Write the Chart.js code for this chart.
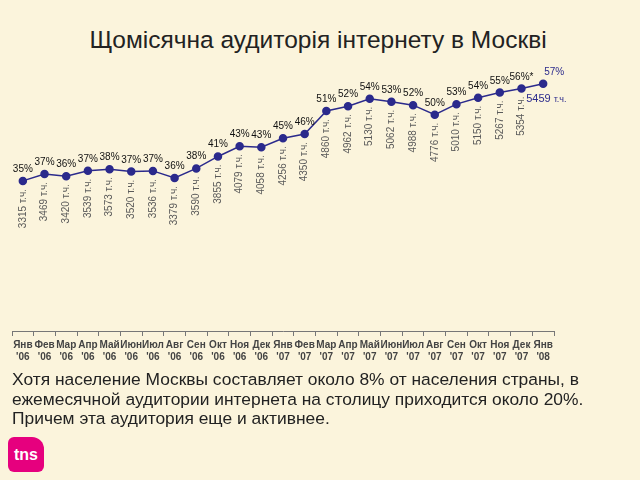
<!DOCTYPE html>
<html lang="ru">
<head>
  <meta charset="UTF-8">
  <title>Щомісячна аудиторія інтернету в Москві</title>
  <script src="https://cdn.jsdelivr.net/npm/chart.js"></script>
  <style>
    body {
      margin: 0;
      width: 640px;
      height: 480px;
      background: #fbf4dc;
      font-family: "Liberation Sans", Arial, sans-serif;
      position: relative;
      overflow: hidden;
    }
    #title {
      position: absolute;
      top: 26px;
      left: 0;
      width: 636px;
      text-align: center;
      font-size: 24.5px;
      color: #222;
    }
    #wrap {
      position: absolute;
      left: 0;
      top: 0;
      width: 640px;
      height: 480px;
    }
    #note {
      position: absolute;
      left: 12px;
      top: 370px;
      width: 628px;
      font-size: 17.4px;
      line-height: 19.5px;
      color: #222;
      white-space: nowrap;
    }
    #logo {
      position: absolute;
      left: 8px;
      top: 437px;
      width: 36px;
      height: 35px;
      background: #e6007e;
      border-radius: 6px;
      border-top-right-radius: 12px;
      color: #fff;
      font-weight: bold;
      font-size: 16px;
      line-height: 35px;
      text-align: center;
    }
  </style>
</head>
<body>
  <div id="title">Щомісячна аудиторія інтернету в Москві</div>
  <div id="wrap"><canvas id="grafico"></canvas></div>
  <div id="note">Хотя население Москвы составляет около 8% от населения страны, в<br>ежемесячной аудитории интернета на столицу приходится около 20%.<br>Причем эта аудитория еще и активнее.</div>
  <div id="logo">tns</div>

  <script>
    const meses = ['Янв', 'Фев', 'Мар', 'Апр', 'Май', 'Июн', 'Июл', 'Авг', 'Сен', 'Окт', 'Ноя', 'Дек',
                   'Янв', 'Фев', 'Мар', 'Апр', 'Май', 'Июн', 'Июл', 'Авг', 'Сен', 'Окт', 'Ноя', 'Дек', 'Янв'];
    const anos = ["'06", "'06", "'06", "'06", "'06", "'06", "'06", "'06", "'06", "'06", "'06", "'06",
                  "'07", "'07", "'07", "'07", "'07", "'07", "'07", "'07", "'07", "'07", "'07", "'07", "'08"];
    const audiencia = [3315, 3469, 3420, 3539, 3573, 3520, 3536, 3379, 3590, 3855, 4079, 4058,
                       4256, 4350, 4860, 4962, 5130, 5062, 4988, 4776, 5010, 5150, 5267, 5354, 5459];
    const percentual = ['35%', '37%', '36%', '37%', '38%', '37%', '37%', '36%', '38%', '41%', '43%', '43%',
                        '45%', '46%', '51%', '52%', '54%', '53%', '52%', '50%', '53%', '54%', '55%', '56%*', '57%'];

    const rotulos = {
      id: 'rotulos',
      afterDatasetsDraw(chart) {
        const ctx = chart.ctx;
        const pts = chart.getDatasetMeta(0).data;
        const ultimo = pts.length - 1;
        ctx.save();
        pts.forEach((p, i) => {
          // percentual acima do ponto
          ctx.font = '10px "Liberation Sans", Arial, sans-serif';
          ctx.textAlign = 'center';
          ctx.textBaseline = 'alphabetic';
          if (i === ultimo) {
            ctx.fillStyle = '#2b2a8c';
            ctx.fillText(percentual[i], p.x + 11, p.y - 9);
            ctx.textAlign = 'left';
            ctx.font = '11px "Liberation Sans", Arial, sans-serif';
            ctx.fillText(audiencia[i], p.x - 17, p.y + 18);
            const w = ctx.measureText(audiencia[i] + ' ').width;
            ctx.font = '9px "Liberation Sans", Arial, sans-serif';
            ctx.fillText('т.ч.', p.x - 17 + w, p.y + 18);
            return;
          }
          ctx.fillStyle = '#111';
          ctx.fillText(percentual[i], p.x, p.y - 9);
          // audiência vertical abaixo do ponto
          ctx.save();
          ctx.translate(p.x, p.y + 8);
          ctx.rotate(-Math.PI / 2);
          ctx.textAlign = 'right';
          ctx.textBaseline = 'middle';
          ctx.fillStyle = '#5a5a5a';
          ctx.font = '10px "Liberation Sans", Arial, sans-serif';
          ctx.fillText(audiencia[i] + ' т.ч.', 0, 0);
          ctx.restore();
        });
        ctx.restore();
      }
    };

    new Chart(document.getElementById('grafico'), {
      type: 'line',
      data: {
        labels: meses.map((m, i) => [m, anos[i]]),
        datasets: [{
          data: audiencia,
          borderColor: '#2b2a8c',
          backgroundColor: '#2b2a8c',
          borderWidth: 1.5,
          pointRadius: 3.5,
          pointHoverRadius: 3.5,
          tension: 0
        }]
      },
      options: {
        responsive: true,
        maintainAspectRatio: false,
        animation: false,
        layout: { padding: { left: 12, right: 86, top: 72, bottom: 114 } },
        plugins: {
          legend: { display: false },
          tooltip: { enabled: false }
        },
        scales: {
          y: {
            display: false,
            min: 0,
            max: 5720
          },
          x: {
            offset: true,
            border: { color: '#777', width: 1 },
            grid: { drawOnChartArea: false, drawTicks: true, tickLength: 5, color: '#777', offset: true },
            ticks: {
              color: '#444',
              padding: 3,
              maxRotation: 0,
              autoSkip: false,
              font: { size: 10, weight: 'bold', family: '"Liberation Sans", Arial, sans-serif', lineHeight: 1.2 }
            }
          }
        }
      },
      plugins: [rotulos]
    });
  </script>
</body>
</html>
